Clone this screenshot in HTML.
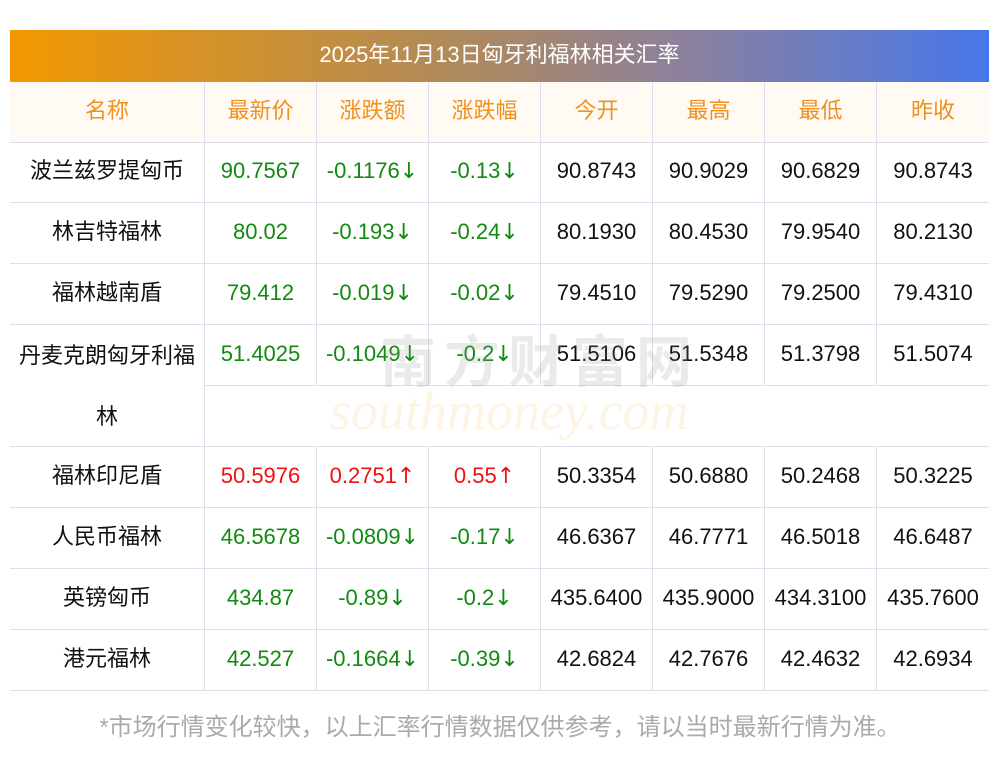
<!DOCTYPE html><html><head><meta charset="utf-8"><style>
body{margin:0;width:1000px;height:757px;background:#fff;position:relative;font-family:"Liberation Sans","Noto Sans CJK SC",sans-serif;overflow:hidden}
.t{position:absolute;left:10px;top:30px;width:979px;height:52px;background:linear-gradient(90deg,#f39800,#b08a5a 45%,#8a80a0 70%,#4677ea);color:#fff;font-size:22px;text-align:center;line-height:50px}
.c{position:absolute;height:61px;line-height:57px;text-align:center;font-size:22px;color:#111;box-sizing:border-box;border-bottom:1px solid #dde0ea;border-right:1px solid #dde0ea}
.h{background:#fffaf4;color:#f0901e}
.g{color:#118a11}.r{color:#f01010}
.a{font-family:"DejaVu Sans",sans-serif;font-size:22px}
.wm1{position:absolute;left:380px;top:318px;font-size:56px;color:rgba(150,150,150,.2);letter-spacing:8px;font-weight:bold}
.wm2{position:absolute;left:330px;top:380px;font-size:54px;font-style:italic;color:rgba(250,200,120,.2);font-family:"Liberation Serif",serif}
.f{position:absolute;top:707px;left:0;width:1000px;text-align:center;font-size:24px;color:#aaa}
</style></head><body>
<div class="t">2025年11月13日匈牙利福林相关汇率</div>
<div id="g"></div>
<div class="wm1">南方财富网</div>
<div class="wm2">southmoney.com</div>
<div class="f">*市场行情变化较快，以上汇率行情数据仅供参考，请以当时最新行情为准。</div>
<script>
var X=[10,205,317,429,541,653,765,877,989];
var H=["名称","最新价","涨跌额","涨跌幅","今开","最高","最低","昨收"];
var R=[
["波兰兹罗提匈币","90.7567","-0.1176↓","-0.13↓","90.8743","90.9029","90.6829","90.8743"],
["林吉特福林","80.02","-0.193↓","-0.24↓","80.1930","80.4530","79.9540","80.2130"],
["福林越南盾","79.412","-0.019↓","-0.02↓","79.4510","79.5290","79.2500","79.4310"],
["丹麦克朗匈牙利福","51.4025","-0.1049↓","-0.2↓","51.5106","51.5348","51.3798","51.5074"],
["福林印尼盾","50.5976","0.2751↑","0.55↑","50.3354","50.6880","50.2468","50.3225"],
["人民币福林","46.5678","-0.0809↓","-0.17↓","46.6367","46.7771","46.5018","46.6487"],
["英镑匈币","434.87","-0.89↓","-0.2↓","435.6400","435.9000","434.3100","435.7600"],
["港元福林","42.527","-0.1664↓","-0.39↓","42.6824","42.7676","42.4632","42.6934"]];
var s="";
function cell(x,y,w,h,cls,txt,st){txt=txt.replace(/([↓↑])/,'<span class="a">$1</span>');s+='<div class="c '+cls+'" style="left:'+x+'px;top:'+y+'px;width:'+w+'px;height:'+h+'px;'+(st||'')+'">'+txt+'</div>';}
for(var j=0;j<8;j++)cell(X[j],82,X[j+1]-X[j],61,"h",H[j],j==7?"border-right:none":"");
var y=142;
for(var i=0;i<8;i++){
 var r=R[i];
 if(i==3){
  s+='<div class="c" style="left:10px;top:'+y+'px;width:195px;height:122px;line-height:61px">丹麦克朗匈牙利福<br>林</div>';
 } else cell(10,y,195,61,"",r[0]);
 for(var j=1;j<8;j++){
  var cls=j<=3?(r[2][0]=="-"?"g":"r"):"";
  cell(X[j],y,X[j+1]-X[j],61,cls,r[j],j==7?"border-right:none":"");
 }
 if(i==3){cell(205,y+61,784,61,"","","border-right:none");y+=61;}
 y+=61;
}
document.getElementById("g").innerHTML=s;
</script>
</body></html>
